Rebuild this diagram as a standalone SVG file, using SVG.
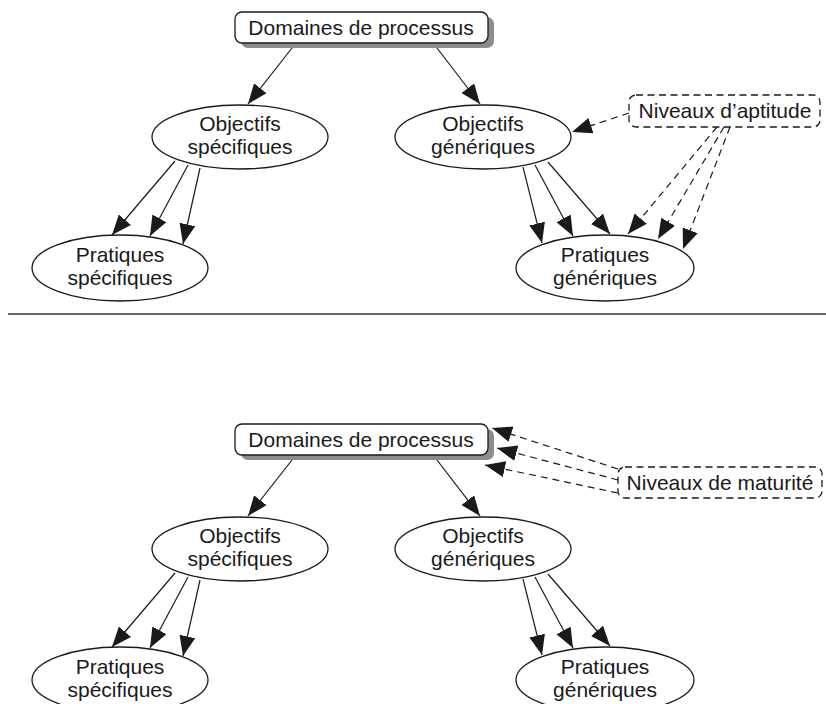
<svg xmlns="http://www.w3.org/2000/svg" width="826" height="704" viewBox="0 0 826 704">
<style>
text{font-family:"Liberation Sans",Arial,sans-serif;font-size:21px;fill:#1a1a1a;text-anchor:middle}
.node{fill:#fff;stroke:#1a1a1a;stroke-width:1.3}
.shadow{fill:#8c8c8c}
.dnode{fill:#fff;stroke:#1a1a1a;stroke-width:1.3;stroke-dasharray:7 4.5}
.e{fill:none;stroke:#1a1a1a;stroke-width:1.2;marker-end:url(#ah)}
.d{fill:none;stroke:#1a1a1a;stroke-width:1.2;stroke-dasharray:7 5;marker-end:url(#ah)}
</style>
<defs>
<marker id="ah" markerUnits="userSpaceOnUse" markerWidth="22" markerHeight="18" refX="20" refY="8" orient="auto">
<path d="M0,0 L20,8 L0,16 z" fill="#1a1a1a"/>
</marker>
</defs>
<rect width="826" height="704" fill="#fff"/>

<g id="connectors">
<!-- top -->
<line class="e" x1="292" y1="48" x2="248" y2="104"/>
<line class="e" x1="437" y1="48" x2="480" y2="104"/>
<line class="e" x1="175" y1="161" x2="112" y2="235"/>
<line class="e" x1="188" y1="165" x2="150" y2="236"/>
<line class="e" x1="200" y1="168" x2="183" y2="244"/>
<line class="e" x1="523" y1="167" x2="542" y2="243"/>
<line class="e" x1="535" y1="165" x2="573" y2="236"/>
<line class="e" x1="548" y1="162" x2="610" y2="234"/>
<line class="d" x1="629" y1="113" x2="572" y2="132"/>
<line class="d" x1="717" y1="127" x2="628" y2="234"/>
<line class="d" x1="724" y1="127" x2="658" y2="239"/>
<line class="d" x1="730" y1="127" x2="683" y2="249"/>
<!-- bottom -->
<line class="e" x1="292" y1="460" x2="248" y2="516"/>
<line class="e" x1="437" y1="460" x2="480" y2="516"/>
<line class="e" x1="175" y1="573" x2="112" y2="647"/>
<line class="e" x1="188" y1="577" x2="150" y2="648"/>
<line class="e" x1="200" y1="580" x2="183" y2="656"/>
<line class="e" x1="523" y1="579" x2="542" y2="655"/>
<line class="e" x1="535" y1="577" x2="573" y2="648"/>
<line class="e" x1="548" y1="574" x2="610" y2="646"/>
<line class="d" x1="618" y1="469" x2="492" y2="428"/>
<line class="d" x1="618" y1="480" x2="497" y2="448"/>
<line class="d" x1="618" y1="493" x2="485" y2="465"/>
</g>

<line x1="8" y1="314" x2="826" y2="314" stroke="#333" stroke-width="1.5"/>

<!-- top diagram -->
<g id="dom1">
<rect class="shadow" x="241" y="17" width="253" height="31" rx="7"/>
<rect class="node" x="235" y="12" width="253" height="31" rx="7"/>
<text x="361" y="35">Domaines de processus</text>
</g>
<g id="objspec1">
<ellipse class="node" cx="240" cy="137" rx="88" ry="32"/>
<text x="240" y="131">Objectifs</text>
<text x="240" y="154">spécifiques</text>
</g>
<g id="objgen1">
<ellipse class="node" cx="483" cy="137" rx="88" ry="32"/>
<text x="483" y="131">Objectifs</text>
<text x="483" y="154">génériques</text>
</g>
<g id="niv1">
<rect class="dnode" x="629" y="95" width="191" height="32" rx="7"/>
<text x="725" y="118">Niveaux d’aptitude</text>
</g>
<g id="pratspec1">
<ellipse class="node" cx="120" cy="268" rx="88" ry="33"/>
<text x="120" y="262">Pratiques</text>
<text x="120" y="285">spécifiques</text>
</g>
<g id="pratgen1">
<ellipse class="node" cx="605" cy="268" rx="89" ry="33"/>
<text x="605" y="262">Pratiques</text>
<text x="605" y="285">génériques</text>
</g>

<!-- bottom diagram -->
<g id="dom2">
<rect class="shadow" x="241" y="429" width="253" height="31" rx="7"/>
<rect class="node" x="235" y="424" width="253" height="31" rx="7"/>
<text x="361" y="447">Domaines de processus</text>
</g>
<g id="objspec2">
<ellipse class="node" cx="240" cy="549" rx="88" ry="32"/>
<text x="240" y="543">Objectifs</text>
<text x="240" y="566">spécifiques</text>
</g>
<g id="objgen2">
<ellipse class="node" cx="483" cy="549" rx="88" ry="32"/>
<text x="483" y="543">Objectifs</text>
<text x="483" y="566">génériques</text>
</g>
<g id="niv2">
<rect class="dnode" x="618" y="467" width="204" height="31" rx="7"/>
<text x="720" y="490">Niveaux de maturité</text>
</g>
<g id="pratspec2">
<ellipse class="node" cx="120" cy="680" rx="88" ry="33"/>
<text x="120" y="674">Pratiques</text>
<text x="120" y="697">spécifiques</text>
</g>
<g id="pratgen2">
<ellipse class="node" cx="605" cy="680" rx="89" ry="33"/>
<text x="605" y="674">Pratiques</text>
<text x="605" y="697">génériques</text>
</g>
</svg>
